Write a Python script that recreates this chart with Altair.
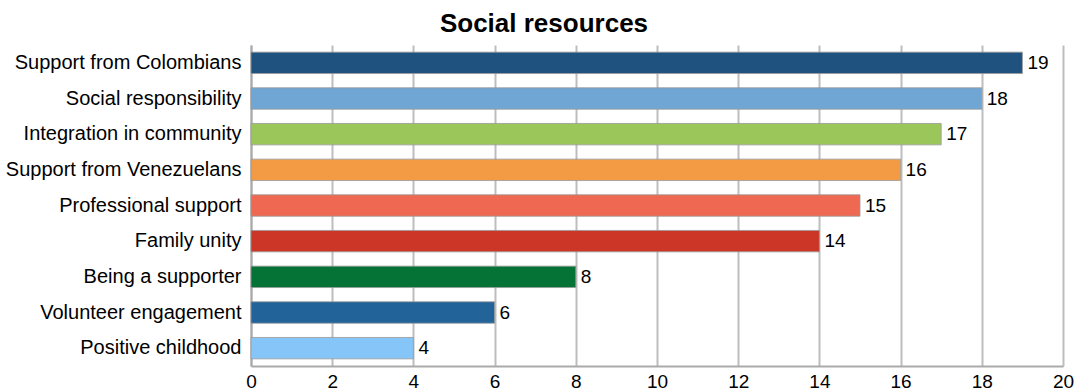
import altair as alt
import pandas as pd

categories = ["Support from Colombians", "Social responsibility", "Integration in community",
              "Support from Venezuelans", "Professional support", "Family unity",
              "Being a supporter", "Volunteer engagement", "Positive childhood"]
values = [19, 18, 17, 16, 15, 14, 8, 6, 4]
colors = ["#1f527f", "#6fa6d3", "#9bc65a", "#f39a44", "#ef6852", "#cc3627",
          "#057335", "#22639a", "#85c5f8"]

df = pd.DataFrame({"category": categories, "value": values})

FONT = "Liberation Sans"

y_axis = alt.Axis(ticks=False, labelPadding=10, grid=False, labelLimit=400, labelFontSize=20)
x_axis = alt.Axis(values=list(range(0, 21, 2)), ticks=False, labelPadding=6, grid=True,
                  labelFontSize=19, labelFlush=False)

bars = alt.Chart(df).mark_bar(stroke="#999", strokeWidth=0.8).encode(
    x=alt.X("value:Q", title=None, scale=alt.Scale(domain=[0, 20], nice=False), axis=x_axis),
    y=alt.Y("category:N", sort=categories, title=None,
            scale=alt.Scale(paddingInner=0.4, paddingOuter=0.2), axis=y_axis),
    color=alt.Color("category:N", scale=alt.Scale(domain=categories, range=colors), legend=None),
)
texts = alt.Chart(df).mark_text(align="left", baseline="middle", dx=5,
                                font=FONT, fontSize=19, color="#000").encode(
    x=alt.X("value:Q", title=None, axis=x_axis),
    y=alt.Y("category:N", sort=categories, title=None, axis=y_axis),
    text="value:Q")

chart = (bars + texts).properties(
    width=812, height=321,
    title=alt.TitleParams("Social resources", font=FONT, fontSize=26, fontWeight="bold",
                          color="#000", anchor="middle", offset=8, dx=-113),
    autosize=alt.AutoSizeParams(type="none"),
    padding={"left": 251, "top": 45, "right": 14, "bottom": 26},
).configure_view(stroke=None).configure_axis(
    labelFont=FONT, labelColor="#000",
    domainColor="#aaa", domainWidth=2, gridColor="#bdbdbd", gridWidth=2,
)

chart.save("out.html", embed_options={"renderer": "svg", "actions": False})
